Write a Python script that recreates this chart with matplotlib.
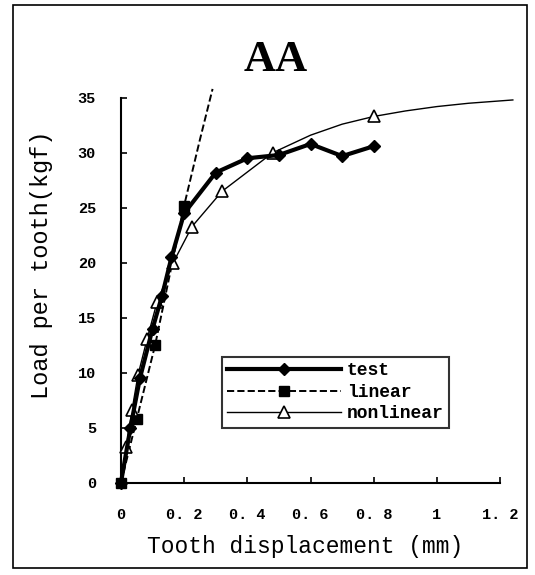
import numpy as np
import matplotlib
matplotlib.use('Agg')
import matplotlib.pyplot as plt
from matplotlib.patches import Rectangle

# datos
x_test = [0.0, 0.03, 0.06, 0.1, 0.13, 0.16, 0.2, 0.3, 0.4, 0.5, 0.6, 0.7, 0.8]
y_test = [0.0, 5.0, 9.5, 14.0, 17.0, 20.5, 24.5, 28.2, 29.5, 29.8, 30.8, 29.7, 30.6]

x_lin = [0.0, 0.05, 0.108, 0.2, 0.25, 0.29]
y_lin = [0.0, 5.8, 12.5, 25.2, 31.2, 35.8]
lin_marks = [0, 1, 2, 3]

x_nl = [0.0, 0.017, 0.035, 0.054, 0.083, 0.114, 0.165, 0.225, 0.32, 0.48,
        0.6, 0.7, 0.8, 0.9, 1.0, 1.1, 1.24]
y_nl = [0.0, 3.3, 6.6, 9.8, 13.1, 16.4, 20.0, 23.3, 26.5, 30.0,
        31.6, 32.6, 33.3, 33.8, 34.2, 34.5, 34.8]
nl_marks = [1, 2, 3, 4, 5, 6, 7, 8, 9, 12]

xticks = [0, 0.2, 0.4, 0.6, 0.8, 1.0, 1.2]
xticklabels = ['0', '0. 2', '0. 4', '0. 6', '0. 8', '1', '1. 2']
yticks = [0, 5, 10, 15, 20, 25, 30, 35]

mono = 'Liberation Mono'

fig = plt.figure(figsize=(5.35, 5.75), dpi=100)
ax = fig.add_axes([0.226, 0.16, 0.7385, 0.67])

ax.plot(x_lin, y_lin, '--', color='black', lw=1.4, marker='s', ms=7,
        markevery=lin_marks, clip_on=False, label='linear', zorder=3)
ax.plot(x_nl, y_nl, '-', color='black', lw=1.0, marker='^', ms=8,
        mfc='white', mec='black', mew=1.2, markevery=nl_marks,
        clip_on=False, label='nonlinear', zorder=4)
ax.plot(x_test, y_test, '-', color='black', lw=3, marker='D', ms=6,
        clip_on=False, label='test', zorder=5)

ax.set_xlim(0, 1.25)
ax.set_ylim(0, 35)
ax.spines['top'].set_visible(False)
ax.spines['right'].set_visible(False)
ax.spines['bottom'].set_bounds(0, 1.2)
ax.spines['left'].set_linewidth(1.5)
ax.spines['bottom'].set_linewidth(1.5)

ax.set_xticks(xticks)
ax.set_xticklabels(xticklabels)
ax.set_yticks(yticks)
ax.tick_params(direction='in', length=4, width=1.2, pad=18)
for lab in ax.get_xticklabels() + ax.get_yticklabels():
    lab.set_fontfamily(mono)
    lab.set_fontweight('bold')
    lab.set_fontsize(11)

ax.set_xlabel('Tooth displacement (mm)', fontfamily=mono, fontsize=16.5, labelpad=8)
ax.xaxis.set_label_coords(0.466, -0.135)
ax.set_ylabel('Load per tooth(kgf)', fontfamily=mono, fontsize=17, labelpad=12)
ax.yaxis.set_label_coords(-0.172, 0.566)

fig.text(0.515, 0.895, 'AA', fontfamily='Liberation Serif', fontsize=32,
         fontweight='bold', ha='center', va='center')

h, l = ax.get_legend_handles_labels()
order = [2, 0, 1]
leg = ax.legend([h[i] for i in order], [l[i] for i in order],
                loc='lower left', bbox_to_anchor=(0.256, 0.143), handlelength=6.3,
                frameon=True, fancybox=False, edgecolor='black', borderpad=0.3,
                labelspacing=0.25, handletextpad=0.3, borderaxespad=0,
                prop={'family': mono, 'weight': 'bold', 'size': 13})
leg.get_frame().set_linewidth(1.5)

fig.patches.append(Rectangle((0.025, 0.012), 0.96, 0.98, transform=fig.transFigure,
                             fill=False, edgecolor='black', lw=1.2))

plt.savefig('out.png', dpi=100)
